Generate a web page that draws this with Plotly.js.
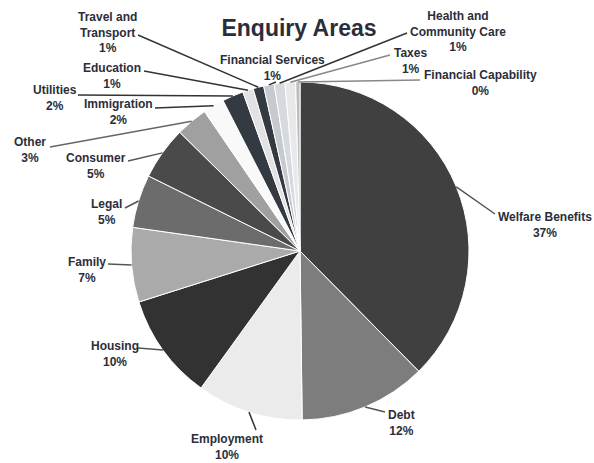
<!DOCTYPE html>
<html>
<head>
<meta charset="utf-8">
<script src="https://cdn.plot.ly/plotly-3.0.1.min.js"></script>
<style>html,body{margin:0;padding:0;background:#fff;}#chart{width:594px;height:463px;}</style>
</head>
<body>
<div id="chart"></div>
<script>
// ---- data ----
const categories = ['Welfare Benefits','Debt','Employment','Housing','Family','Legal','Consumer','Other',
  'Immigration','Utilities','Education','Travel and Transport','Financial Services',
  'Health and Community Care','Taxes','Financial Capability'];
const displayNames = ['Welfare Benefits','Debt','Employment','Housing','Family','Legal','Consumer','Other',
  'Immigration','Utilities','Education','Travel and<br>Transport','Financial Services',
  'Health and<br>Community Care','Taxes','Financial Capability'];
const values = [37,12,10,10,7,5,5,3,2,2,1,1,1,1,1,0.4];
const percentText = ['37%','12%','10%','10%','7%','5%','5%','3%','2%','2%','1%','1%','1%','1%','1%','0%'];

// ---- styles / layout (not data) ----
const sliceColors = ['#404040','#7d7d7d','#ebebeb','#323232','#aaaaaa','#6c6c6c','#4a4a4a','#a0a0a0',
  '#f9f9f9','#343a42','#e2e2e2','#343a42','#c6cace','#d6dade','#e6e8ea','#bdbdbd'];
const W = 594, H = 463;
const pieCx = 300, pieCy = 251, pieR = 169;
// label block centres (px)
const labelX = [545,401,227,115,87,106,96,30,118,55,112,107,272,458,410,480];
const labelY = [225,423,447,354,270,212,166,150,112,98,76,33,68,32,61,83];
// leader line start points on the label side (px)
const lineSX = [495,385,256,138,108,125,128,50,155,78,144,138,276,407,390,420];
const lineSY = [214,412,430,348,264,208,161,147,108,95,71,35,82,33,55,80];
const lineColors = ['#555','#555','#333','#555','#555','#555','#555','#666','#333','#333','#333','#333','#333','#333','#888','#888'];
const textColor = '#2b2e3a';
const font = '"Liberation Sans", Arial, sans-serif';

const px2x = x => x / W;
const px2y = y => 1 - y / H;

const total = values.reduce((a, b) => a + b, 0);
const annotations = [];
const shapes = [];
let cum = 0;
values.forEach((v, i) => {
  const theta = 2 * Math.PI * (cum + v / 2) / total;
  cum += v;
  const ex = pieCx + pieR * Math.sin(theta);
  const ey = pieCy - pieR * Math.cos(theta);
  shapes.push({type: 'line', xref: 'paper', yref: 'paper',
    x0: px2x(lineSX[i]), y0: px2y(lineSY[i]), x1: px2x(ex), y1: px2y(ey),
    line: {color: lineColors[i], width: 1.5}});
  annotations.push({xref: 'paper', yref: 'paper', x: px2x(labelX[i]), y: px2y(labelY[i]),
    xanchor: 'center', yanchor: 'middle', align: 'center', showarrow: false,
    text: '<b>' + displayNames[i] + '<br>' + percentText[i] + '</b>',
    font: {family: font, size: 12, color: textColor}});
});

const trace = {
  type: 'pie',
  labels: categories,
  values: values,
  sort: false,
  direction: 'clockwise',
  rotation: 0,
  textinfo: 'none',
  hoverinfo: 'none',
  marker: {colors: sliceColors, line: {color: '#ffffff', width: 1}},
  domain: {x: [(pieCx - pieR) / W, (pieCx + pieR) / W],
           y: [1 - (pieCy + pieR) / H, 1 - (pieCy - pieR) / H]},
  showlegend: false
};

const layout = {
  width: W, height: H,
  margin: {l: 0, r: 0, t: 0, b: 0},
  paper_bgcolor: '#ffffff',
  showlegend: false,
  title: {text: '<b>Enquiry Areas</b>', x: 299 / W, xanchor: 'center', y: 1 - 28 / H, yanchor: 'middle',
    font: {family: font, size: 23, color: textColor}},
  annotations: annotations,
  shapes: shapes
};

Plotly.newPlot('chart', [trace], layout, {staticPlot: true, displayModeBar: false});
</script>
</body>
</html>
